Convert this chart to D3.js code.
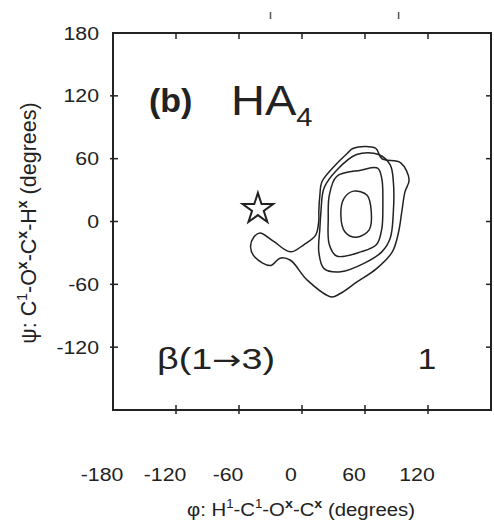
<!doctype html>
<html lang="en">
<head>
<meta charset="UTF-8">
<title>HA4 b(1-3)</title>
<script src="https://d3js.org/d3.v7.min.js"></script>
<style>
  body { margin: 0; background: #fff; }
  text { font-family: 'Liberation Sans', Arial, Helvetica, sans-serif; fill: #222; }
</style>
</head>
<body>
<div id="chart-area"></div>
<script>

// axis ticks (degrees)
const xTicks = [-180, -120, -60, 0, 60, 120, 180];
const yTicks = [-180, -120, -60, 0, 60, 120, 180];
const xTickLabels = [-180, -120, -60, 0, 60, 120];
const yTickLabels = [180, 120, 60, 0, -60, -120];

// contour levels as [phi, psi], innermost first
const level1 = [[49, 29], [62, 25], [66, 9], [64, -8], [52, -15], [41, -10], [37, 6], [40, 22]];
const level2 = [[33, 43], [56, 49], [72, 51], [76, 41], [77, 16], [76, -7], [71, -22], [56, -29],
                [33, -33], [26, -22], [25, 3], [26, 25]];
const level3 = [[52, 64], [73, 64], [84, 54], [87, 38], [87, 9], [84, -16], [76, -29], [59, -40],
                [37, -48], [21, -45], [16, -29], [17, -7], [18, 9], [21, 32], [33, 49]];
const level4 = [[49, 70], [70, 70], [76, 60], [94, 56], [102, 40], [98, 28], [95, 9], [92, -10],
                [86, -29], [71, -45], [52, -58], [36, -69], [28, -72], [5, -56], [-11, -37],
                [-21, -35], [-30, -42], [-45, -34], [-49, -24], [-46, -15], [-40, -11], [-27, -19],
                [-11, -29], [2, -22], [13, -13], [16, 1], [16, 9], [17, 25], [19, 38], [30, 52], [43, 65]];
const contours = [level1, level2, level3, level4];

// crystal structure value (star)
const starPoint = [-42, 12];

// stray tick stubs above the frame (from the panel above)
const topStubs = [-30, 92];

const W = 494, H = 529;
const svg = d3.select('#chart-area')
    .append('svg')
    .attr('width', W)
    .attr('height', H);

const x = d3.scaleLinear().domain([-180, 180]).range([113, 491]);
const y = d3.scaleLinear().domain([-180, 180]).range([410, 33]);

const ink = '#222';

// contours
const line = d3.line()
    .x(d => x(d[0]))
    .y(d => y(d[1]))
    .curve(d3.curveCatmullRomClosed.alpha(0.5));

svg.append('g')
    .selectAll('path')
    .data(contours)
    .enter().append('path')
    .attr('d', line)
    .attr('fill', 'none')
    .attr('stroke', ink)
    .attr('stroke-width', 1.5)
    .attr('stroke-linejoin', 'round');

// star
svg.append('path')
    .attr('d', d3.symbol().type(d3.symbolStar).size(290)())
    .attr('transform', `translate(${x(starPoint[0])},${y(starPoint[1])})`)
    .attr('fill', '#fff')
    .attr('stroke', ink)
    .attr('stroke-width', 2);

// frame
svg.append('rect')
    .attr('x', x(-180))
    .attr('y', y(180))
    .attr('width', x(180) - x(-180))
    .attr('height', y(-180) - y(180))
    .attr('fill', 'none')
    .attr('stroke', ink)
    .attr('stroke-width', 2);

const ticks = svg.append('g').attr('stroke', ink).attr('stroke-width', 1.5);
xTicks.slice(1, -1).forEach(v => {
    ticks.append('line').attr('x1', x(v)).attr('x2', x(v)).attr('y1', y(-180) - 5).attr('y2', y(-180) + 4);
    ticks.append('line').attr('x1', x(v)).attr('x2', x(v)).attr('y1', y(180)).attr('y2', y(180) + 6);
});
yTicks.slice(1, -1).forEach(v => {
    ticks.append('line').attr('x1', x(-180) - 3).attr('x2', x(-180) + 5).attr('y1', y(v)).attr('y2', y(v));
    ticks.append('line').attr('x1', x(180) - 5).attr('x2', x(180)).attr('y1', y(v)).attr('y2', y(v));
});
topStubs.forEach(v => {
    ticks.append('line').attr('x1', x(v)).attr('x2', x(v)).attr('y1', 12).attr('y2', 19)
        .attr('stroke', '#555');
});

// text helper: horizontally widened like the scanned lettering
function label(txt, px, py, size, anchor, sx) {
    return svg.append('text')
        .attr('transform', `translate(${px},${py}) scale(${sx || 1},1)`)
        .attr('font-size', size)
        .attr('text-anchor', anchor)
        .text(txt);
}

xTickLabels.forEach(v => label(v, x(v) - 11, 481, 18.5, 'middle', 1.15));
yTickLabels.forEach(v => label(v, 99, y(v) + 6.5, 18.5, 'end', 1.15));

// panel labels
label('(b)', 149, 112, 34, 'start', 1).attr('font-weight', 'bold');
const ha = label('HA', 231, 115, 42, 'start', 1.12);
ha.append('tspan').attr('font-size', 26).attr('dy', 11).text('4');
const bl = label('\u03b2(1', 157, 369, 29, 'start', 1.3);
bl.append('tspan').attr('font-family', 'DejaVu Sans').attr('font-size', 27).text('\u2192');
bl.append('tspan').text('3)');
label('1', 427, 369, 29, 'middle', 1.15);

// axis titles
const xt = svg.append('text')
    .attr('transform', 'translate(301,516) scale(1.1,1)')
    .attr('font-size', 18.5)
    .attr('text-anchor', 'middle');
xt.append('tspan').text('\u03c6: H');
xt.append('tspan').attr('font-size', 12).attr('dy', -8).text('1');
xt.append('tspan').attr('dy', 8).text('-C');
xt.append('tspan').attr('font-size', 12).attr('dy', -8).text('1');
xt.append('tspan').attr('dy', 8).text('-O');
xt.append('tspan').attr('font-size', 13).attr('font-weight', 'bold').attr('dy', -8).text('x');
xt.append('tspan').attr('dy', 8).text('-C');
xt.append('tspan').attr('font-size', 13).attr('font-weight', 'bold').attr('dy', -8).text('x');
xt.append('tspan').attr('dy', 8).text(' (degrees)');

const yt = svg.append('text')
    .attr('transform', 'translate(36,223) rotate(-90)')
    .attr('font-size', 21.5)
    .attr('text-anchor', 'middle');
yt.append('tspan').text('\u03c8: C');
yt.append('tspan').attr('font-size', 14).attr('dy', -9).text('1');
yt.append('tspan').attr('dy', 9).text('-O');
yt.append('tspan').attr('font-size', 14).attr('font-weight', 'bold').attr('dy', -9).text('x');
yt.append('tspan').attr('dy', 9).text('-C');
yt.append('tspan').attr('font-size', 14).attr('font-weight', 'bold').attr('dy', -9).text('x');
yt.append('tspan').attr('dy', 9).text('-H');
yt.append('tspan').attr('font-size', 14).attr('font-weight', 'bold').attr('dy', -9).text('x');
yt.append('tspan').attr('dy', 9).text(' (degrees)');

</script>
</body>
</html>
